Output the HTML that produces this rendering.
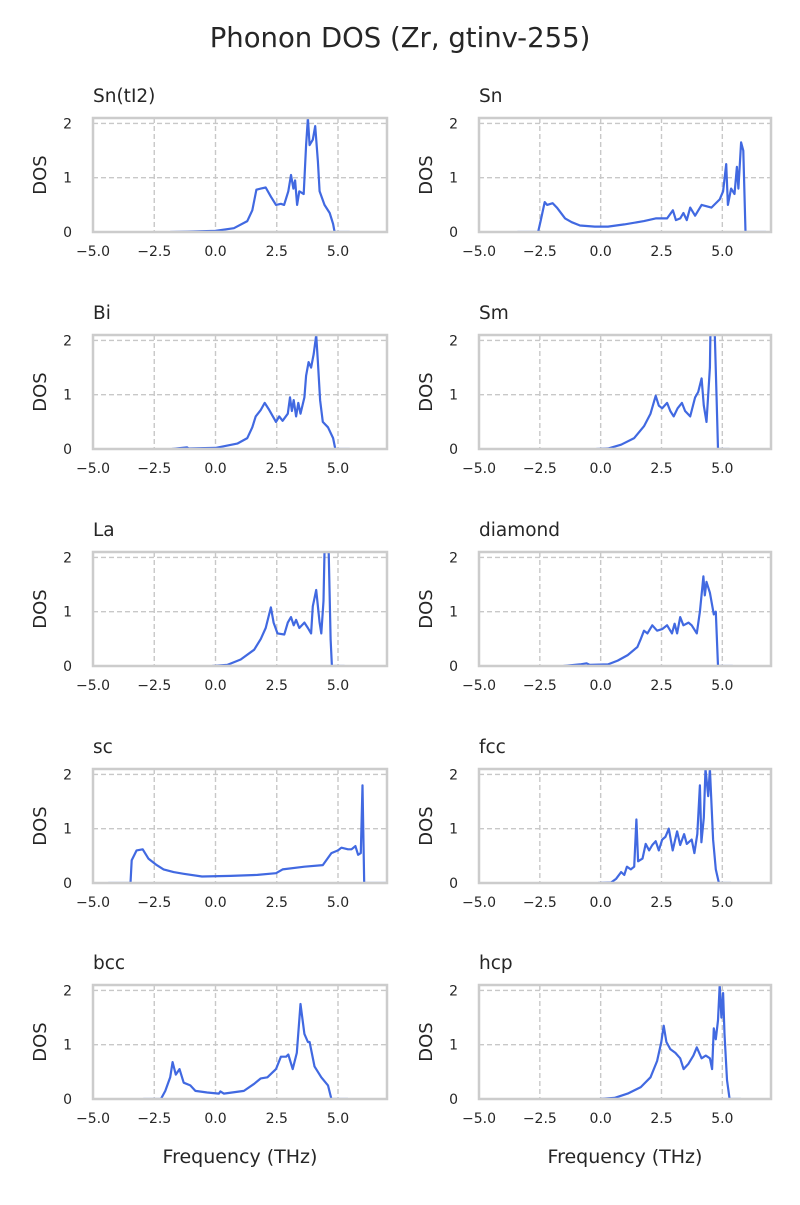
<!DOCTYPE html>
<html><head><meta charset="utf-8"><style>
html,body{margin:0;padding:0;background:#fff;}
svg text{font-family:"DejaVu Sans","Liberation Sans",sans-serif;fill:#262626;}
</style></head><body>
<svg id="chart" width="800" height="1200" viewBox="0 0 800 1200">
<text x="400" y="47" font-size="27.5" text-anchor="middle">Phonon DOS (Zr, gtinv-255)</text>
</svg>
<script>
const panelTitles = ["Sn(tI2)","Sn","Bi","Sm","La","diamond","sc","fcc","bcc","hcp"];
const xTicks = [-5,-2.5,0,2.5,5];
const xTickLabels = ["−5.0","−2.5","0.0","2.5","5.0"];
const yTicks = [0,1,2];
const yTickLabels = ["0","1","2"];
const xMin = -5, xMax = 7, yMin = 0, yMax = 2.1;

const freqSnTI2 = [-1.85,-0.9,0,0.75,1.3,1.5,1.67,1.85,2.05,2.26,2.47,2.67,2.8,2.97,3.08,3.18,3.25,3.33,3.42,3.6,3.7,3.77,3.84,3.97,4.07,4.18,4.25,4.45,4.66,4.8,4.86,5.48];
const dosSnTI2 = [0,0.01,0.02,0.07,0.2,0.4,0.78,0.8,0.82,0.65,0.5,0.52,0.5,0.75,1.05,0.8,0.95,0.5,0.75,0.7,1.6,2.1,1.6,1.7,1.95,1.3,0.75,0.5,0.35,0.15,0,0];
const freqSn = [-3.42,-2.57,-2.47,-2.3,-2.2,-1.97,-1.8,-1.46,-1.19,-0.85,-0.24,0.3,0.97,1.78,2.26,2.73,2.97,3.09,3.27,3.4,3.54,3.68,3.88,4.15,4.55,4.89,5.03,5.16,5.23,5.36,5.5,5.6,5.66,5.77,5.86,5.95,6.8];
const dosSn = [0,0,0.2,0.55,0.5,0.53,0.45,0.25,0.18,0.12,0.1,0.1,0.14,0.2,0.25,0.25,0.4,0.22,0.25,0.35,0.22,0.45,0.3,0.5,0.45,0.6,0.75,1.25,0.5,0.8,0.7,1.2,0.8,1.65,1.5,0,0];
const freqBi = [-1.78,-1.16,-1.1,0,0.89,1.3,1.5,1.64,1.85,2.01,2.19,2.47,2.6,2.74,2.95,3.04,3.12,3.19,3.29,3.38,3.47,3.63,3.7,3.8,3.9,4.01,4.11,4.18,4.27,4.38,4.59,4.8,4.89,5.48];
const dosBi = [0,0.03,0.01,0.02,0.1,0.2,0.4,0.6,0.72,0.85,0.72,0.5,0.6,0.52,0.65,0.95,0.7,0.9,0.6,0.85,0.65,0.95,1.35,1.6,1.5,1.75,2.1,1.6,0.9,0.5,0.4,0.2,0,0];
const freqSm = [-0.18,0.3,0.84,1.38,1.78,2.05,2.26,2.39,2.53,2.73,2.86,3.0,3.16,3.34,3.47,3.68,3.88,4.01,4.15,4.24,4.35,4.49,4.51,4.62,4.69,4.76,4.82,5.3];
const dosSm = [0,0.01,0.08,0.2,0.42,0.65,0.98,0.8,0.75,0.85,0.7,0.6,0.75,0.85,0.7,0.6,0.95,1.05,1.3,0.8,0.5,1.5,2.1,2.1,2.1,1.0,0,0];
const freqLa = [-0.14,0.48,1.03,1.58,1.85,2.05,2.26,2.37,2.53,2.81,2.95,3.08,3.19,3.29,3.42,3.63,3.77,3.9,3.97,4.11,4.25,4.32,4.41,4.45,4.62,4.7,4.75,5.27];
const dosLa = [0,0.02,0.12,0.3,0.5,0.7,1.08,0.8,0.6,0.58,0.8,0.9,0.75,0.85,0.7,0.8,0.7,0.6,1.1,1.4,0.8,0.6,1.2,2.1,2.1,0.5,0,0];
const freqDiamond = [-1.53,-0.85,-0.58,-0.45,0.3,0.7,1.11,1.51,1.65,1.78,1.92,2.12,2.32,2.53,2.73,2.93,3.04,3.14,3.27,3.4,3.61,3.74,3.95,4.08,4.22,4.28,4.35,4.49,4.65,4.73,4.82,5.43];
const dosDiamond = [0,0.03,0.05,0.02,0.03,0.1,0.2,0.35,0.5,0.65,0.6,0.75,0.65,0.68,0.75,0.6,0.78,0.6,0.9,0.75,0.8,0.75,0.6,1.0,1.65,1.3,1.55,1.35,0.95,1.0,0,0];
const freqSc = [-4.38,-3.47,-3.42,-3.22,-2.97,-2.74,-2.4,-2.12,-1.71,-1.3,-0.55,0.62,1.71,2.47,2.74,3.63,4.38,4.73,5.0,5.14,5.41,5.55,5.71,5.82,5.93,6.0,6.07,6.99];
const dosSc = [0,0,0.42,0.6,0.62,0.45,0.33,0.25,0.2,0.17,0.12,0.13,0.15,0.18,0.25,0.3,0.33,0.55,0.6,0.65,0.62,0.62,0.68,0.52,0.55,1.8,0,0];
const freqFcc = [-0.11,0.43,0.64,0.84,0.97,1.08,1.24,1.38,1.47,1.54,1.72,1.85,1.99,2.12,2.26,2.39,2.53,2.66,2.8,2.96,3.14,3.27,3.43,3.54,3.74,3.85,3.97,4.08,4.14,4.24,4.31,4.42,4.49,4.62,4.73,4.86,5.36];
const dosFcc = [0,0.01,0.08,0.2,0.15,0.3,0.25,0.3,1.17,0.4,0.45,0.72,0.6,0.7,0.77,0.6,0.8,0.85,1.0,0.6,0.95,0.7,0.9,0.72,0.8,0.55,0.9,1.8,0.75,1.2,2.1,1.6,2.1,0.8,0.25,0,0];
const freqBcc = [-2.95,-2.23,-2.05,-1.85,-1.75,-1.62,-1.47,-1.3,-1.03,-0.82,-0.34,0.14,0.2,0.34,1.16,1.58,1.85,2.12,2.47,2.67,2.88,2.97,3.15,3.32,3.47,3.63,3.77,3.84,4.04,4.32,4.59,4.73,5.41];
const dosBcc = [0,0,0.15,0.4,0.68,0.45,0.55,0.3,0.25,0.15,0.12,0.1,0.14,0.1,0.15,0.28,0.38,0.4,0.55,0.78,0.78,0.82,0.55,0.85,1.75,1.2,1.05,1.05,0.6,0.4,0.25,0,0];
const freqHcp = [-0.04,0.57,1.11,1.65,2.05,2.32,2.49,2.59,2.7,2.86,3.07,3.27,3.41,3.61,3.81,3.95,4.15,4.32,4.49,4.58,4.65,4.73,4.82,4.89,4.96,5.03,5.09,5.19,5.3,5.77];
const dosHcp = [0,0.02,0.1,0.22,0.4,0.7,1.05,1.35,1.05,0.92,0.85,0.75,0.55,0.65,0.8,0.95,0.75,0.8,0.75,0.55,1.3,1.1,1.45,2.1,1.5,1.95,1.2,0.35,0,0];

const panelFreqs = [freqSnTI2,freqSn,freqBi,freqSm,freqLa,freqDiamond,freqSc,freqFcc,freqBcc,freqHcp];
const panelDos = [dosSnTI2,dosSn,dosBi,dosSm,dosLa,dosDiamond,dosSc,dosFcc,dosBcc,dosHcp];

const NS = "http://www.w3.org/2000/svg";
const svg = document.getElementById("chart");
function mk(tag, attrs, parent){const e=document.createElementNS(NS,tag);for(const k in attrs)e.setAttribute(k,attrs[k]);(parent||svg).appendChild(e);return e;}

const colLeft = [93,479], colWidth = [294,292];
const rowTop = [118,335,552,769,985], plotH = 114;

panelTitles.forEach((title,i)=>{
  const col = i%2, row = Math.floor(i/2);
  const L = colLeft[col], W = colWidth[col], T = rowTop[row], B = T+plotH;
  const sx = v => L + (v-xMin)/(xMax-xMin)*W;
  const sy = v => B - (Math.min(v,yMax)-yMin)/(yMax-yMin)*plotH;
  const g = mk("g",{});
  
  
  xTicks.forEach(t=>{
    const l = mk("line",{x1:sx(t),x2:sx(t),y1:T,y2:B,stroke:"#c8c8c8","stroke-width":1.4,"stroke-dasharray":"5,3"},g);
    
    
  });
  yTicks.forEach(t=>{
    const l = mk("line",{x1:L,x2:L+W,y1:sy(t),y2:sy(t),stroke:"#c8c8c8","stroke-width":1.4,"stroke-dasharray":"5,3"},g);
    
    
  });
  const fr = panelFreqs[i], ds = panelDos[i];
  const pts = fr.map((f,k)=>sx(f).toFixed(1)+","+sy(ds[k]).toFixed(1)).join(" ");
  const cp = mk("clipPath",{id:"clip"+i},g);
  mk("rect",{x:L,y:T,width:W,height:plotH},cp);
  const pl = mk("polyline",{points:pts,fill:"none",stroke:"#4169e1","stroke-width":2.2,"stroke-linejoin":"round","clip-path":"url(#clip"+i+")"},g);
  
  
  const fr2 = mk("rect",{x:L,y:T,width:W,height:plotH,fill:"none",stroke:"#cccccc","stroke-width":2.5},g);
  
  
  xTicks.forEach((t,k)=>{
    const tx = mk("text",{x:sx(t),y:B+24,"font-size":14,"text-anchor":"middle"},g);
    tx.textContent = xTickLabels[k];
    
    
  });
  yTicks.forEach((t,k)=>{
    const tx = mk("text",{x:L-21,y:sy(t)+5,"font-size":14,"text-anchor":"end"},g);
    tx.textContent = yTickLabels[k];
    
    
  });
  const yl = mk("text",{x:0,y:0,"font-size":18,"text-anchor":"middle",transform:"translate("+(L-47)+","+(T+plotH/2)+") rotate(-90)"},g);
  yl.textContent = "DOS";
  
  
  const tt = mk("text",{x:L,y:T-16,"font-size":18.5},g);
  tt.textContent = title;
  
  
  if(row===4){
    const xl = mk("text",{x:L+W*0.5,y:B+64,"font-size":19,"text-anchor":"middle"},g);
    xl.textContent = "Frequency (THz)";
    
    
  }
});
</script>
</body></html>
